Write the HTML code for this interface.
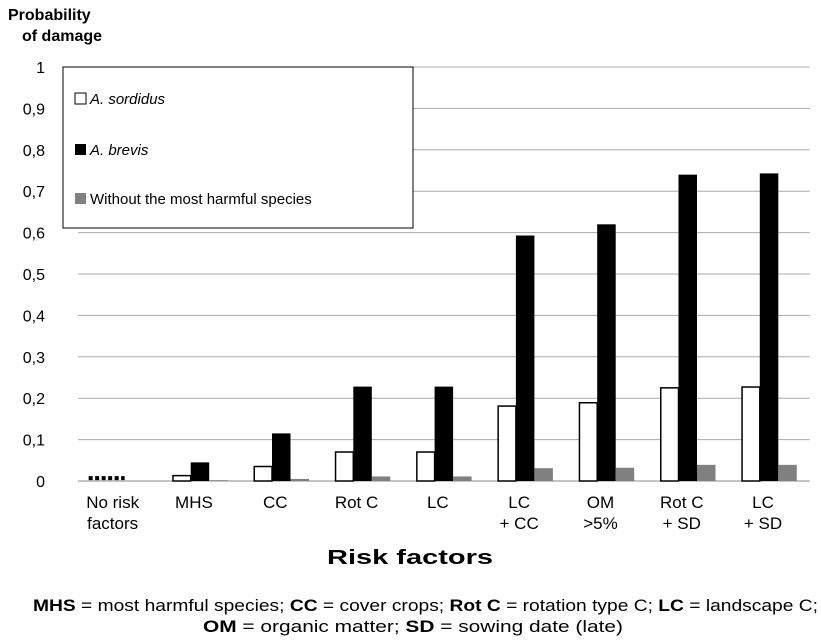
<!DOCTYPE html>
<html><head><meta charset="utf-8"><style>
body{margin:0;background:#fff;font-family:"Liberation Sans",Arial,sans-serif}
svg text{font-family:"Liberation Sans",Arial,sans-serif}
</style></head><body>
<svg id="chart" width="821" height="637" viewBox="0 0 821 637" xmlns="http://www.w3.org/2000/svg">
<text x="8" y="20" font-size="16" font-weight="bold">Probability</text>
<text x="22" y="41" font-size="16" font-weight="bold">of damage</text>
<g id="grid"></g><g id="bars"></g><g id="xlabels"></g>
<rect x="63" y="67" width="350" height="161" fill="#fff" stroke="#000" stroke-width="1"/>
<rect x="75" y="93" width="11" height="11" fill="#fff" stroke="#000"/>
<text x="90" y="104" font-size="15" font-style="italic">A. sordidus</text>
<rect x="75" y="144" width="11" height="11" fill="#000"/>
<text x="90" y="155" font-size="15" font-style="italic">A. brevis</text>
<rect x="75" y="193" width="11" height="11" fill="#808080"/>
<text x="90" y="204" font-size="15">Without the most harmful species</text>
<text x="327" y="564" font-size="20" font-weight="bold" textLength="166" lengthAdjust="spacingAndGlyphs">Risk factors</text>
<text x="33" y="611" font-size="17" textLength="785" lengthAdjust="spacingAndGlyphs"><tspan font-weight="bold">MHS</tspan> = most harmful species; <tspan font-weight="bold">CC</tspan> = cover crops; <tspan font-weight="bold">Rot C</tspan> = rotation type C; <tspan font-weight="bold">LC</tspan> = landscape C;</text>
<text x="203" y="632" font-size="17" textLength="420" lengthAdjust="spacingAndGlyphs"><tspan font-weight="bold">OM</tspan> = organic matter; <tspan font-weight="bold">SD</tspan> = sowing date (late)</text>
</svg>
<script>
const categories=[["No risk","factors"],["MHS"],["CC"],["Rot C"],["LC"],["LC","+ CC"],["OM",">5%"],["Rot C","+ SD"],["LC","+ SD"]];
const sordidus=[0.007,0.013,0.035,0.070,0.070,0.181,0.189,0.225,0.227];
const brevis=[0.007,0.045,0.115,0.228,0.228,0.593,0.620,0.740,0.743];
const without=[0.007,0.002,0.005,0.011,0.011,0.031,0.032,0.039,0.039];
const ticks=["0","0,1","0,2","0,3","0,4","0,5","0,6","0,7","0,8","0,9","1"];
const NS="http://www.w3.org/2000/svg";
const X0=78,CW=81.3,Y0=481,YH=414,BW=18.5;
const y=v=>Y0-v*YH;
const xc=i=>X0+(i+0.5)*CW;
function mk(tag,attrs,parent){const e=document.createElementNS(NS,tag);for(const k in attrs)e.setAttribute(k,attrs[k]);parent.appendChild(e);return e;}
const grid=document.getElementById('grid'),bars=document.getElementById('bars'),xl=document.getElementById('xlabels');
ticks.forEach((t,i)=>{
  const v=i/10;
  const l=mk('line',{x1:X0,x2:X0+9*CW,y1:y(v),y2:y(v),stroke:i==0?'#888':'#aaa','stroke-width':1},grid);
  
  
  const tx=mk('text',{x:45,y:y(v)+6,'font-size':16,'text-anchor':'end'},grid);
  tx.textContent=t;
  
  
});
categories.forEach((c,i)=>{
  const cx=xc(i);
  if(i===0){
    const d=mk('line',{x1:cx-30,x2:cx+6,y1:y(sordidus[0]),y2:y(sordidus[0]),stroke:'#000','stroke-width':4,'stroke-dasharray':'4,2.5'},bars);
    
    
  } else {
    [[sordidus,'#fff','sordidus'],[brevis,'#000','brevis'],[without,'#808080','without']].forEach((s,j)=>{
      const v=s[0][i];const bx=cx-1.5*BW+j*BW;
      const r=mk('rect',{x:bx+(j==0?0.75:0),y:y(v),width:BW-(j==0?0.75:0),height:Math.max(0,Y0-y(v)),fill:s[1],stroke:j==0?'#000':'none','stroke-width':1.5},bars);
      
      
    });
  }
  c.forEach((line,k)=>{
    const t=mk('text',{x:cx-6,y:508+k*21,'font-size':17,'text-anchor':'middle'},xl);
    t.textContent=line;
    
    
  });
});
</script>
</body></html>
